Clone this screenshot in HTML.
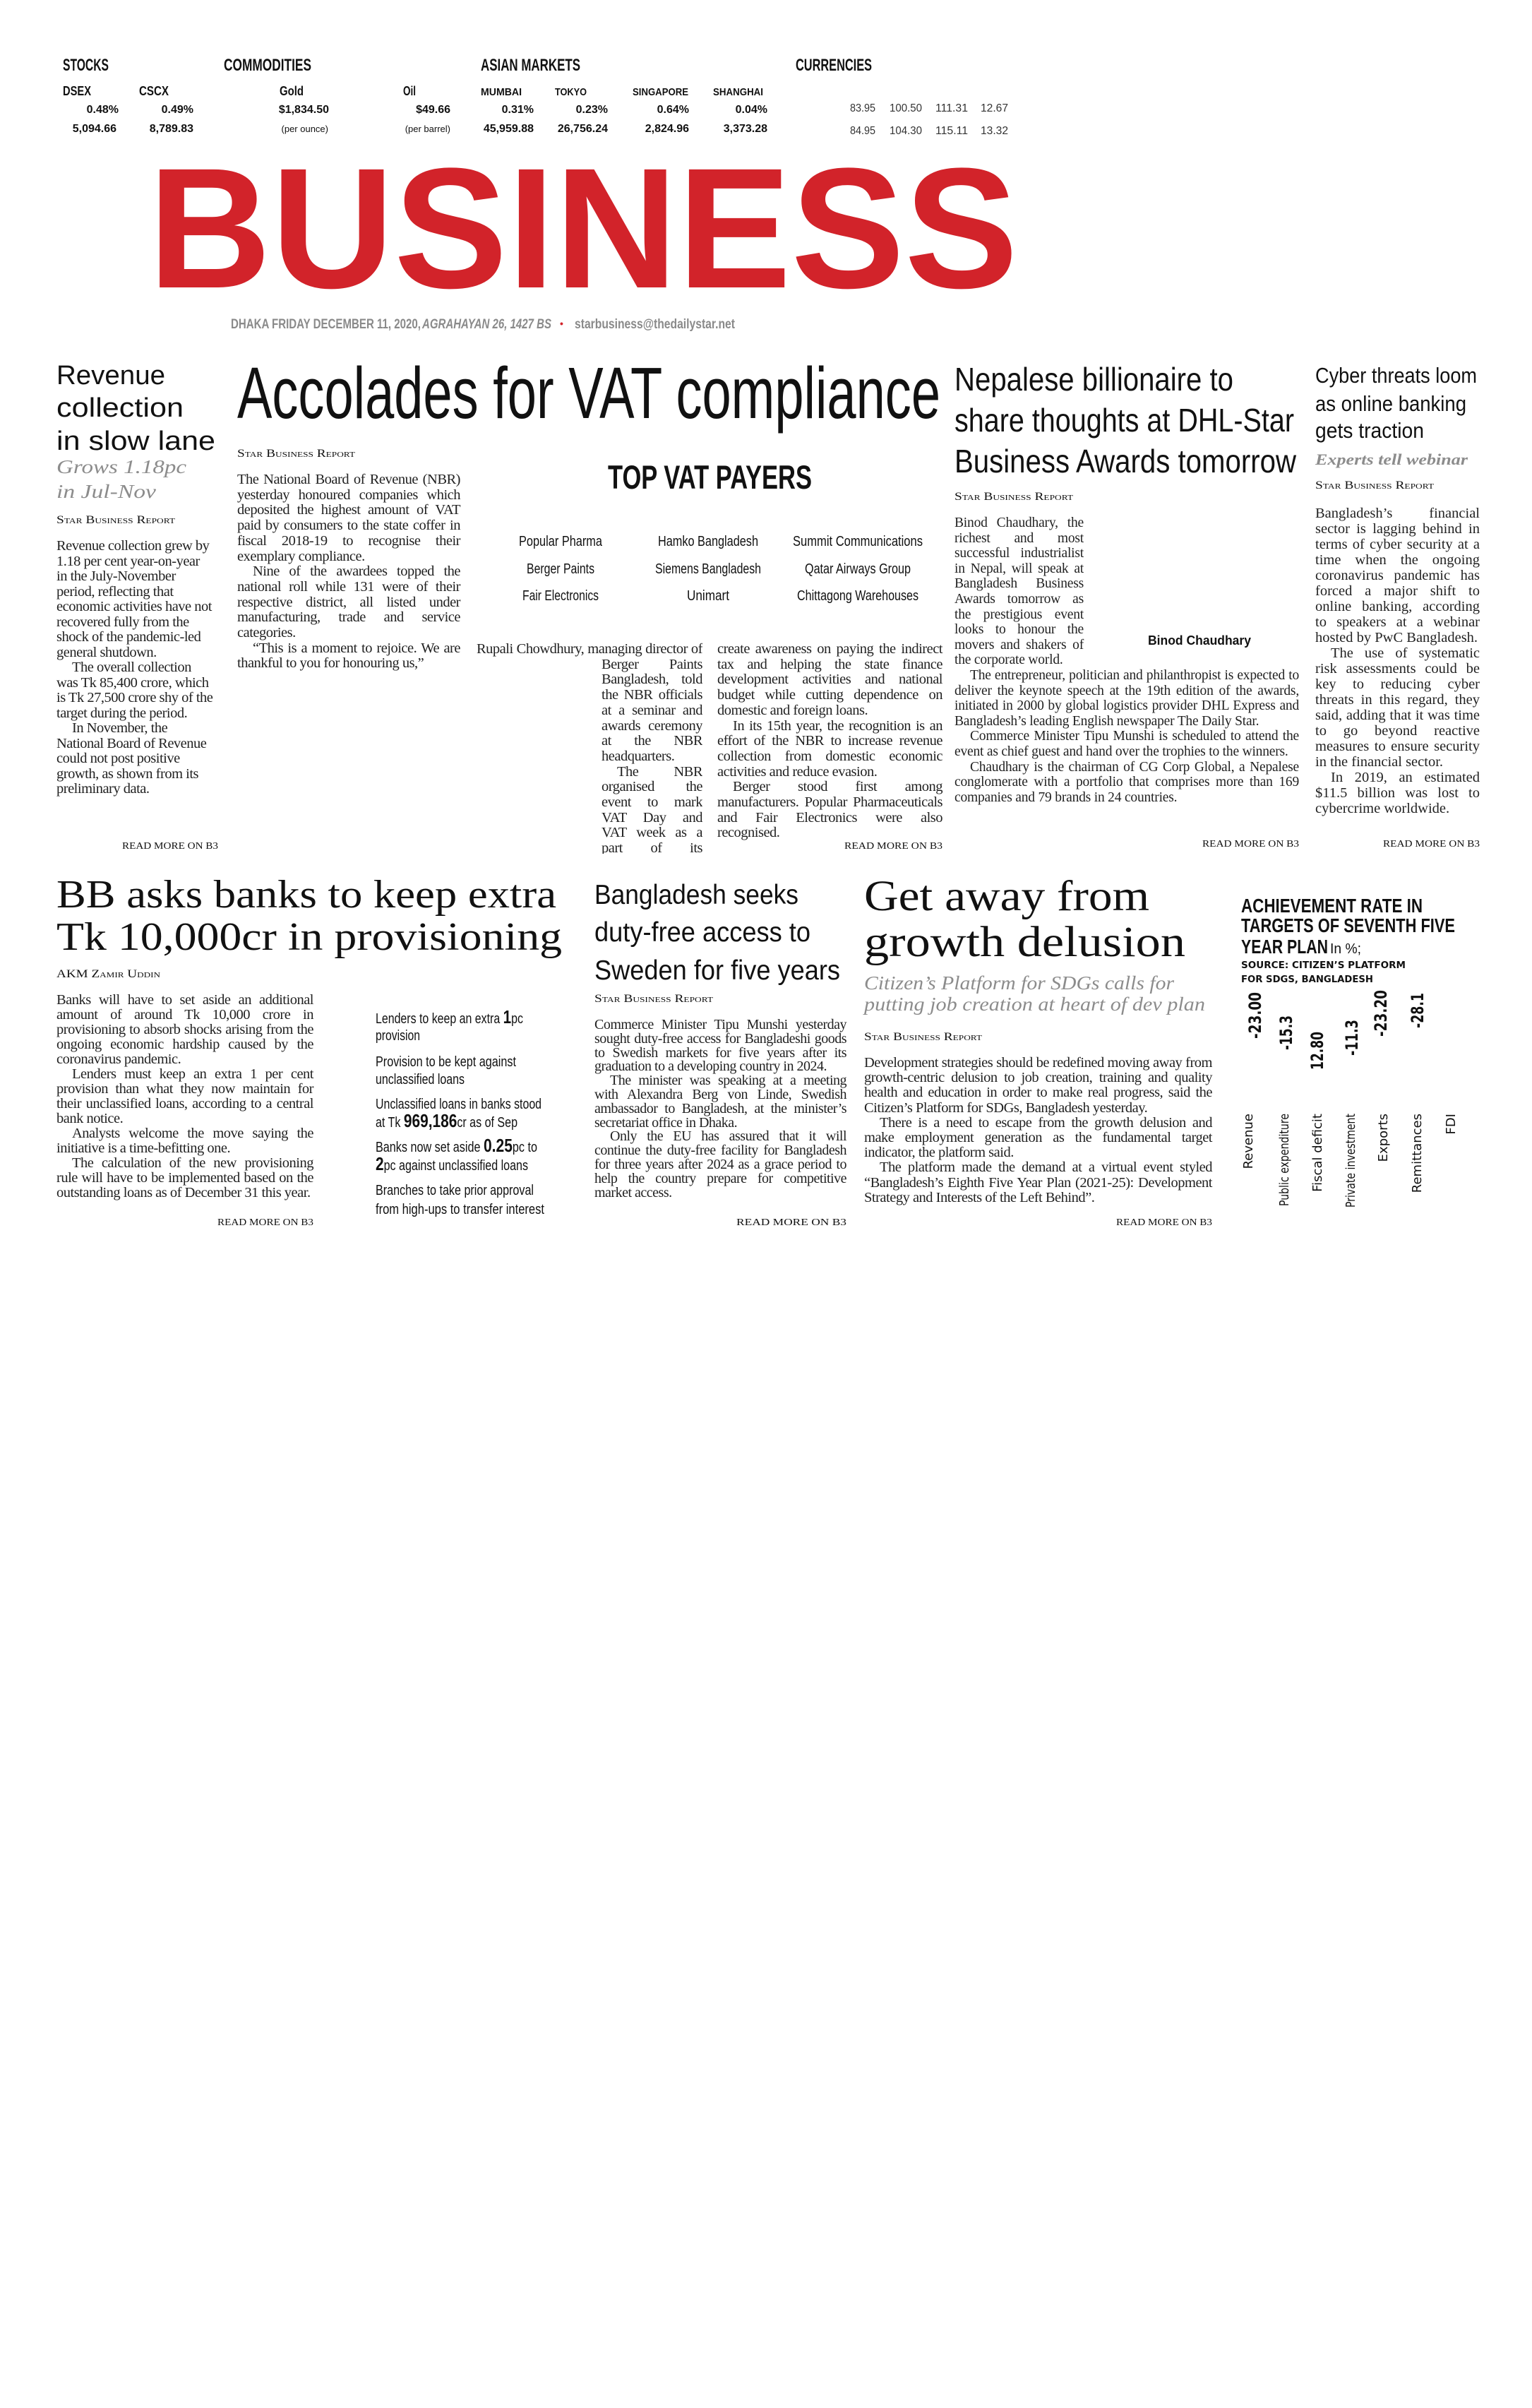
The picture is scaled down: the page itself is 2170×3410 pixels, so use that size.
<!DOCTYPE html>
<html><head><meta charset="utf-8">
<style>
html,body{margin:0;padding:0;background:#fff;}
body{width:2170px;height:3410px;position:relative;overflow:hidden;}
.b{position:absolute;font-family:"Liberation Serif",serif;font-size:20.5px;letter-spacing:-0.5px;line-height:21.6px;color:#222;text-align:justify;}
.b p{margin:0;text-indent:22px;}
.b p:first-of-type{text-indent:0;}
.l{text-align:left;}
svg{position:absolute;left:0;top:0;}
.cn{font-family:"Liberation Sans Narrow","Liberation Sans",sans-serif;}
.sc{font-family:"Liberation Serif",serif;font-variant:small-caps;}
</style></head><body>

<div class="b l" style="left:80px;top:763px;width:222px;line-height:21.5px;">
<p>Revenue collection grew by 1.18 per cent year-on-year in the July-November period, reflecting that economic activities have not recovered fully from the shock of the pandemic-led general shutdown.</p>
<p>The overall collection was Tk 85,400 crore, which is Tk 27,500 crore shy of the target during the period.</p>
<p>In November, the National Board of Revenue could not post positive growth, as shown from its preliminary data.</p>
</div>

<div class="b" style="left:336px;top:669px;width:316px;line-height:21.7px;">
<p>The National Board of Revenue (NBR) yesterday honoured companies which deposited the highest amount of VAT paid by consumers to the state coffer in fiscal 2018-19 to recognise their exemplary compliance.</p>
<p>Nine of the awardees topped the national roll while 131 were of their respective district, all listed under manufacturing, trade and service categories.</p>
<p>“This is a moment to rejoice. We are thankful to you for honouring us,”</p>
</div>

<div class="b" style="left:675px;top:909px;width:320px;height:300px;overflow:hidden;line-height:21.7px;">
<div style="float:left;width:0;height:43.4px;"></div>
<div style="float:left;clear:left;width:177px;height:300px;"></div>
<p>Rupali Chowdhury, managing director of Berger Paints Bangladesh, told the NBR officials at a seminar and awards ceremony at the NBR headquarters.</p>
<p>The NBR organised the event to mark VAT Day and VAT week as a part of its initiative to</p>
</div>

<div class="b" style="left:1016px;top:909px;width:319px;line-height:21.7px;">
<p>create awareness on paying the indirect tax and helping the state finance development activities and national budget while cutting dependence on domestic and foreign loans.</p>
<p>In its 15th year, the recognition is an effort of the NBR to increase revenue collection from domestic economic activities and reduce evasion.</p>
<p>Berger stood first among manufacturers. Popular Pharmaceuticals and Fair Electronics were also recognised.</p>
</div>

<div class="b" style="left:1352px;top:730px;width:488px;line-height:21.6px;font-size:19.5px;letter-spacing:-0.2px;">
<div style="float:right;width:305px;height:196px;"></div>
<p>Binod Chaudhary, the richest and most successful industrialist in Nepal, will speak at Bangladesh Business Awards tomorrow as the prestigious event looks to honour the movers and shakers of the corporate world.</p>
<p>The entrepreneur, politician and philanthropist is expected to deliver the keynote speech at the 19th edition of the awards, initiated in 2000 by global logistics provider DHL Express and Bangladesh’s leading English newspaper The Daily Star.</p>
<p>Commerce Minister Tipu Munshi is scheduled to attend the event as chief guest and hand over the trophies to the winners.</p>
<p>Chaudhary is the chairman of CG Corp Global, a Nepalese conglomerate with a portfolio that comprises more than 169 companies and 79 brands in 24 countries.</p>
</div>

<div class="b" style="left:1863px;top:716px;width:233px;line-height:22px;letter-spacing:0;">
<p>Bangladesh’s financial sector is lagging behind in terms of cyber security at a time when the ongoing coronavirus pandemic has forced a major shift to online banking, according to speakers at a webinar hosted by PwC Bangladesh.</p>
<p>The use of systematic risk assessments could be key to reducing cyber threats in this regard, they said, adding that it was time to go beyond reactive measures to ensure security in the financial sector.</p>
<p>In 2019, an estimated $11.5 billion was lost to cybercrime worldwide.</p>
</div>

<div class="b" style="left:80px;top:1406px;width:364px;line-height:21px;">
<p>Banks will have to set aside an additional amount of around Tk 10,000 crore in provisioning to absorb shocks arising from the ongoing economic hardship caused by the coronavirus pandemic.</p>
<p>Lenders must keep an extra 1 per cent provision than what they now maintain for their unclassified loans, according to a central bank notice.</p>
<p>Analysts welcome the move saying the initiative is a time-befitting one.</p>
<p>The calculation of the new provisioning rule will have to be implemented based on the outstanding loans as of December 31 this year.</p>
</div>

<div class="b" style="left:842px;top:1442px;width:357px;line-height:19.8px;font-size:20px;">
<p>Commerce Minister Tipu Munshi yesterday sought duty-free access for Bangladeshi goods to Swedish markets for five years after its graduation to a developing country in 2024.</p>
<p>The minister was speaking at a meeting with Alexandra Berg von Linde, Swedish ambassador to Bangladesh, at the minister’s secretariat office in Dhaka.</p>
<p>Only the EU has assured that it will continue the duty-free facility for Bangladesh for three years after 2024 as a grace period to help the country prepare for competitive market access.</p>
</div>

<div class="b" style="left:1224px;top:1495px;width:493px;line-height:21.2px;">
<p>Development strategies should be redefined moving away from growth-centric delusion to job creation, training and quality health and education in order to make real progress, said the Citizen’s Platform for SDGs, Bangladesh yesterday.</p>
<p>There is a need to escape from the growth delusion and make employment generation as the fundamental target indicator, the platform said.</p>
<p>The platform made the demand at a virtual event styled “Bangladesh’s Eighth Five Year Plan (2021-25): Development Strategy and Interests of the Left Behind”.</p>
</div>

<svg width="2170" height="3410" viewBox="0 0 2170 3410" xmlns="http://www.w3.org/2000/svg">
<g class="cn" font-weight="bold" fill="#111">
<text x="89" y="100" font-size="24" textLength="65" lengthAdjust="spacingAndGlyphs">STOCKS</text>
<text x="317" y="100" font-size="24" textLength="124" lengthAdjust="spacingAndGlyphs">COMMODITIES</text>
<text x="681" y="100" font-size="24" textLength="141" lengthAdjust="spacingAndGlyphs">ASIAN MARKETS</text>
<text x="1127" y="100" font-size="24" textLength="108" lengthAdjust="spacingAndGlyphs">CURRENCIES</text>
<g font-size="18">
<text x="89" y="135" textLength="40" lengthAdjust="spacingAndGlyphs">DSEX</text>
<text x="197" y="135" textLength="42" lengthAdjust="spacingAndGlyphs">CSCX</text>
<text x="396" y="135" textLength="34" lengthAdjust="spacingAndGlyphs">Gold</text>
<text x="571" y="135" textLength="18" lengthAdjust="spacingAndGlyphs">Oil</text>
</g>
<g font-size="15">
<text x="681" y="135" textLength="58" lengthAdjust="spacingAndGlyphs">MUMBAI</text>
<text x="786" y="135" textLength="45" lengthAdjust="spacingAndGlyphs">TOKYO</text>
<text x="896" y="135" textLength="79" lengthAdjust="spacingAndGlyphs">SINGAPORE</text>
<text x="1010" y="135" textLength="71" lengthAdjust="spacingAndGlyphs">SHANGHAI</text>
</g>
<g font-size="16" text-anchor="end">
<text x="168" y="160">0.48%</text>
<text x="274" y="160">0.49%</text>
<text x="466" y="160">$1,834.50</text>
<text x="638" y="160">$49.66</text>
<text x="756" y="160">0.31%</text>
<text x="861" y="160">0.23%</text>
<text x="976" y="160">0.64%</text>
<text x="1087" y="160">0.04%</text>
<text x="165" y="187">5,094.66</text>
<text x="274" y="187">8,789.83</text>
<text x="465" y="187" font-size="13" font-weight="normal">(per ounce)</text>
<text x="638" y="187" font-size="13" font-weight="normal">(per barrel)</text>
<text x="756" y="187">45,959.88</text>
<text x="861" y="187">26,756.24</text>
<text x="976" y="187">2,824.96</text>
<text x="1087" y="187">3,373.28</text>
</g>
<g font-size="16" font-weight="normal" fill="#333">
<text x="1204" y="158" textLength="36" lengthAdjust="spacingAndGlyphs">83.95</text>
<text x="1260" y="158" textLength="46" lengthAdjust="spacingAndGlyphs">100.50</text>
<text x="1325" y="158" textLength="46" lengthAdjust="spacingAndGlyphs">111.31</text>
<text x="1389" y="158" textLength="39" lengthAdjust="spacingAndGlyphs">12.67</text>
<text x="1204" y="190" textLength="36" lengthAdjust="spacingAndGlyphs">84.95</text>
<text x="1260" y="190" textLength="46" lengthAdjust="spacingAndGlyphs">104.30</text>
<text x="1325" y="190" textLength="46" lengthAdjust="spacingAndGlyphs">115.11</text>
<text x="1389" y="190" textLength="39" lengthAdjust="spacingAndGlyphs">13.32</text>
</g>
</g>

<text x="210" y="407" font-family="Liberation Sans,sans-serif" font-weight="bold" font-size="243" fill="#d2232a" textLength="1232" lengthAdjust="spacingAndGlyphs">BUSINESS</text>

<g class="cn" font-weight="bold" font-size="19" fill="#8a8a8a">
<text x="327" y="465" textLength="269" lengthAdjust="spacingAndGlyphs">DHAKA FRIDAY DECEMBER 11, 2020,</text>
<text x="598" y="465" font-style="italic" textLength="183" lengthAdjust="spacingAndGlyphs">AGRAHAYAN 26, 1427 BS</text>
<text x="793" y="463" fill="#d2232a" font-size="14">•</text>
<text x="814" y="465" textLength="227" lengthAdjust="spacingAndGlyphs">starbusiness@thedailystar.net</text>
</g>

<g class="cn" fill="#111">
<text x="80" y="544" font-size="38" textLength="154" lengthAdjust="spacingAndGlyphs">Revenue</text>
<text x="80" y="590" font-size="38" textLength="180" lengthAdjust="spacingAndGlyphs">collection</text>
<text x="80" y="637" font-size="38" textLength="225" lengthAdjust="spacingAndGlyphs">in slow lane</text>
<text x="336" y="592" font-size="103" textLength="996" lengthAdjust="spacingAndGlyphs">Accolades for VAT compliance</text>
<text x="861" y="692" font-size="47" font-weight="bold" textLength="289" lengthAdjust="spacingAndGlyphs">TOP VAT PAYERS</text>
<g font-size="20" text-anchor="middle">
<text x="794" y="773" textLength="118" lengthAdjust="spacingAndGlyphs">Popular Pharma</text>
<text x="1003" y="773" textLength="142" lengthAdjust="spacingAndGlyphs">Hamko Bangladesh</text>
<text x="1215" y="773" textLength="184" lengthAdjust="spacingAndGlyphs">Summit Communications</text>
<text x="794" y="812" textLength="96" lengthAdjust="spacingAndGlyphs">Berger Paints</text>
<text x="1003" y="812" textLength="150" lengthAdjust="spacingAndGlyphs">Siemens Bangladesh</text>
<text x="1215" y="812" textLength="150" lengthAdjust="spacingAndGlyphs">Qatar Airways Group</text>
<text x="794" y="850" textLength="108" lengthAdjust="spacingAndGlyphs">Fair Electronics</text>
<text x="1003" y="850" textLength="60" lengthAdjust="spacingAndGlyphs">Unimart</text>
<text x="1215" y="850" textLength="172" lengthAdjust="spacingAndGlyphs">Chittagong Warehouses</text>
</g>
<text x="1352" y="553" font-size="46" textLength="395" lengthAdjust="spacingAndGlyphs">Nepalese billionaire to</text>
<text x="1352" y="611" font-size="46" textLength="481" lengthAdjust="spacingAndGlyphs">share thoughts at DHL-Star</text>
<text x="1352" y="669" font-size="46" textLength="484" lengthAdjust="spacingAndGlyphs">Business Awards tomorrow</text>
<text x="1863" y="542" font-size="31" textLength="229" lengthAdjust="spacingAndGlyphs">Cyber threats loom</text>
<text x="1863" y="582" font-size="31" textLength="214" lengthAdjust="spacingAndGlyphs">as online banking</text>
<text x="1863" y="620" font-size="31" textLength="154" lengthAdjust="spacingAndGlyphs">gets traction</text>
<text x="842" y="1280" font-size="39" textLength="289" lengthAdjust="spacingAndGlyphs">Bangladesh seeks</text>
<text x="842" y="1333" font-size="39" textLength="306" lengthAdjust="spacingAndGlyphs">duty-free access to</text>
<text x="842" y="1387" font-size="39" textLength="348" lengthAdjust="spacingAndGlyphs">Sweden for five years</text>
<text x="1626" y="913" font-size="18" font-weight="bold" font-family="Liberation Sans,sans-serif" textLength="146" lengthAdjust="spacingAndGlyphs">Binod Chaudhary</text>
</g>

<g font-family="Liberation Serif,serif" fill="#111">
<text x="80" y="1285" font-size="56" textLength="708" lengthAdjust="spacingAndGlyphs">BB asks banks to keep extra</text>
<text x="80" y="1345" font-size="56" textLength="716" lengthAdjust="spacingAndGlyphs">Tk 10,000cr in provisioning</text>
<text x="1224" y="1289" font-size="61" textLength="404" lengthAdjust="spacingAndGlyphs">Get away from</text>
<text x="1224" y="1354" font-size="61" textLength="455" lengthAdjust="spacingAndGlyphs">growth delusion</text>
</g>

<g font-family="Liberation Serif,serif" font-style="italic" fill="#8c8c8c">
<text x="80" y="670" font-size="27" textLength="184" lengthAdjust="spacingAndGlyphs">Grows 1.18pc</text>
<text x="80" y="705" font-size="27" textLength="141" lengthAdjust="spacingAndGlyphs">in Jul-Nov</text>
<text x="1863" y="658" font-size="22" font-weight="bold" textLength="216" lengthAdjust="spacingAndGlyphs">Experts tell webinar</text>
<text x="1224" y="1401" font-size="27" textLength="439" lengthAdjust="spacingAndGlyphs">Citizen’s Platform for SDGs calls for</text>
<text x="1224" y="1431" font-size="27" textLength="483" lengthAdjust="spacingAndGlyphs">putting job creation at heart of dev plan</text>
</g>

<g class="sc" font-size="16" fill="#111">
<text x="80" y="741" textLength="168" lengthAdjust="spacingAndGlyphs">Star Business Report</text>
<text x="336" y="647" textLength="167" lengthAdjust="spacingAndGlyphs">Star Business Report</text>
<text x="1352" y="708" textLength="168" lengthAdjust="spacingAndGlyphs">Star Business Report</text>
<text x="1863" y="692" textLength="168" lengthAdjust="spacingAndGlyphs">Star Business Report</text>
<text x="80" y="1384" textLength="147" lengthAdjust="spacingAndGlyphs">AKM Zamir Uddin</text>
<text x="842" y="1419" textLength="168" lengthAdjust="spacingAndGlyphs">Star Business Report</text>
<text x="1224" y="1473" textLength="167" lengthAdjust="spacingAndGlyphs">Star Business Report</text>
</g>

<g font-family="Liberation Serif,serif" font-size="14" fill="#111">
<text x="173" y="1202" textLength="136" lengthAdjust="spacingAndGlyphs">READ MORE ON B3</text>
<text x="1196" y="1202" textLength="139" lengthAdjust="spacingAndGlyphs">READ MORE ON B3</text>
<text x="1703" y="1199" textLength="137" lengthAdjust="spacingAndGlyphs">READ MORE ON B3</text>
<text x="1959" y="1199" textLength="137" lengthAdjust="spacingAndGlyphs">READ MORE ON B3</text>
<text x="308" y="1735" textLength="136" lengthAdjust="spacingAndGlyphs">READ MORE ON B3</text>
<text x="1043" y="1735" textLength="156" lengthAdjust="spacingAndGlyphs">READ MORE ON B3</text>
<text x="1581" y="1735" textLength="136" lengthAdjust="spacingAndGlyphs">READ MORE ON B3</text>
</g>

<g class="cn" font-size="20" fill="#111">
<text x="532" y="1449" textLength="209" lengthAdjust="spacingAndGlyphs">Lenders to keep an extra <tspan font-weight="bold" font-size="26">1</tspan>pc</text>
<text x="532" y="1473" textLength="63" lengthAdjust="spacingAndGlyphs">provision</text>
<text x="532" y="1510" textLength="199" lengthAdjust="spacingAndGlyphs">Provision to be kept against</text>
<text x="532" y="1535" textLength="126" lengthAdjust="spacingAndGlyphs">unclassified loans</text>
<text x="532" y="1570" textLength="235" lengthAdjust="spacingAndGlyphs">Unclassified loans in banks stood</text>
<text x="532" y="1596" textLength="201" lengthAdjust="spacingAndGlyphs">at Tk <tspan font-weight="bold" font-size="26">969,186</tspan>cr as of Sep</text>
<text x="532" y="1631" textLength="229" lengthAdjust="spacingAndGlyphs">Banks now set aside <tspan font-weight="bold" font-size="26">0.25</tspan>pc to</text>
<text x="532" y="1657" textLength="216" lengthAdjust="spacingAndGlyphs"><tspan font-weight="bold" font-size="26">2</tspan>pc against unclassified loans</text>
<text x="532" y="1692" textLength="224" lengthAdjust="spacingAndGlyphs">Branches to take prior approval</text>
<text x="532" y="1719" textLength="239" lengthAdjust="spacingAndGlyphs">from high-ups to transfer interest</text>
</g>

<g class="cn" font-weight="bold" fill="#111">
<text x="1758" y="1292" font-size="28" textLength="257" lengthAdjust="spacingAndGlyphs">ACHIEVEMENT RATE IN</text>
<text x="1758" y="1320" font-size="28" textLength="303" lengthAdjust="spacingAndGlyphs">TARGETS OF SEVENTH FIVE</text>
<text x="1758" y="1350" font-size="28" textLength="123" lengthAdjust="spacingAndGlyphs">YEAR PLAN</text>
<text x="1884" y="1350" font-size="20" font-weight="normal" textLength="44" lengthAdjust="spacingAndGlyphs">In %;</text>
</g>
<g font-family="DejaVu Sans,sans-serif" font-weight="bold" font-size="13" fill="#111">
<text x="1758" y="1371" textLength="233" lengthAdjust="spacingAndGlyphs">SOURCE: CITIZEN’S PLATFORM</text>
<text x="1758" y="1391" textLength="187" lengthAdjust="spacingAndGlyphs">FOR SDGS, BANGLADESH</text>
</g>
<g font-family="DejaVu Sans,sans-serif" font-weight="bold" font-size="24" fill="#111">
<text transform="translate(1786,1471) rotate(-90)" textLength="66" lengthAdjust="spacingAndGlyphs">-23.00</text>
<text transform="translate(1830,1487) rotate(-90)" textLength="49" lengthAdjust="spacingAndGlyphs">-15.3</text>
<text transform="translate(1874,1515) rotate(-90)" textLength="54" lengthAdjust="spacingAndGlyphs">12.80</text>
<text transform="translate(1923,1495) rotate(-90)" textLength="51" lengthAdjust="spacingAndGlyphs">-11.3</text>
<text transform="translate(1964,1468) rotate(-90)" textLength="66" lengthAdjust="spacingAndGlyphs">-23.20</text>
<text transform="translate(2016,1456) rotate(-90)" textLength="50" lengthAdjust="spacingAndGlyphs">-28.1</text>
</g>
<g font-family="DejaVu Sans,sans-serif" font-size="18" fill="#111" text-anchor="end">
<text transform="translate(1774,1577) rotate(-90)">Revenue</text>
<text transform="translate(1825,1577) rotate(-90)" textLength="131" lengthAdjust="spacingAndGlyphs">Public expenditure</text>
<text transform="translate(1872,1577) rotate(-90)">Fiscal deficit</text>
<text transform="translate(1919,1577) rotate(-90)" textLength="133" lengthAdjust="spacingAndGlyphs">Private investment</text>
<text transform="translate(1965,1577) rotate(-90)">Exports</text>
<text transform="translate(2013,1577) rotate(-90)">Remittances</text>
<text transform="translate(2061,1577) rotate(-90)">FDI</text>
</g>
</svg>
</body></html>
